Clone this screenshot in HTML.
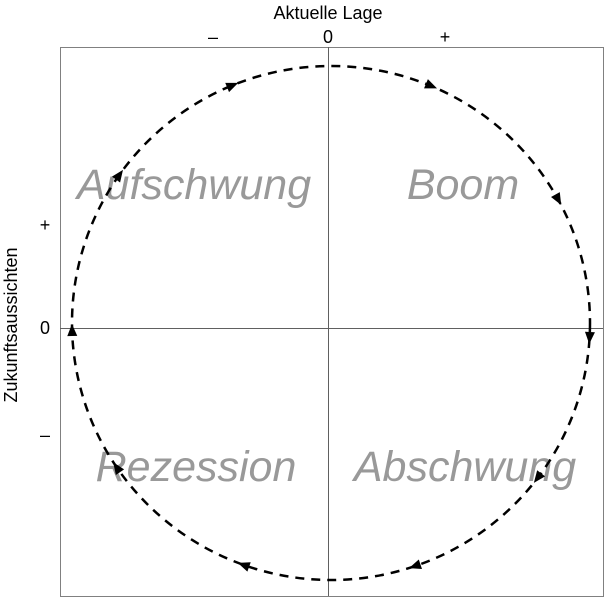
<!DOCTYPE html>
<html><head><meta charset="utf-8"><style>
html,body{margin:0;padding:0;background:#fff;}
</style></head><body>
<svg id="s" width="606" height="599" xmlns="http://www.w3.org/2000/svg" font-family="Liberation Sans, sans-serif">
<rect x="60.5" y="47.5" width="543" height="549" fill="none" stroke="#808080" stroke-width="1"/>
<line x1="328.5" y1="47" x2="328.5" y2="596" stroke="#606060" stroke-width="1"/>
<line x1="60" y1="328.5" x2="603" y2="328.5" stroke="#606060" stroke-width="1"/>
<text x="328" y="19" font-size="18" text-anchor="middle">Aktuelle Lage</text>
<text x="213" y="43" font-size="18" text-anchor="middle">–</text>
<text x="328" y="43" font-size="18" text-anchor="middle">0</text>
<text x="445" y="43" font-size="18" text-anchor="middle">+</text>
<text x="45" y="231" font-size="18" text-anchor="middle">+</text>
<text x="45" y="334" font-size="18" text-anchor="middle">0</text>
<text x="45" y="441" font-size="18" text-anchor="middle">–</text>
<text transform="translate(17,325) rotate(-90)" font-size="18" text-anchor="middle">Zukunftsaussichten</text>
<g fill="#999" font-size="43" font-style="italic" text-anchor="middle">
<text x="194" y="199">Aufschwung</text>
<text x="463" y="199">Boom</text>
<text x="196" y="481">Rezession</text>
<text x="465" y="481">Abschwung</text>
</g>
<ellipse cx="331" cy="323" rx="259" ry="257" fill="none" stroke="#000" stroke-width="2.5" stroke-dasharray="9,7"/>
<g id="arr"></g>
</svg>
<script>
var pts=[[233,86],[432,85],[558,200],[590,338],[540,480],[415,567],[243,566],[117,467],[73,330],[120,175]];
var cx=331,cy=323,rx=259,ry=257,g=document.getElementById('arr'),h='';
pts.forEach(function(p){
 var t=Math.atan2((p[1]-cy)/ry,(p[0]-cx)/rx);
 var x=cx+rx*Math.cos(t),y=cy+ry*Math.sin(t);
 var dx=-rx*Math.sin(t),dy=ry*Math.cos(t);
 var a=Math.atan2(dy,dx)*180/Math.PI;
 h+='<polygon points="6,0 -6,-5 -6,5" fill="#000" transform="translate('+x.toFixed(1)+','+y.toFixed(1)+') rotate('+a.toFixed(1)+')"/>';
});
g.innerHTML=h;
</script>
</body></html>
